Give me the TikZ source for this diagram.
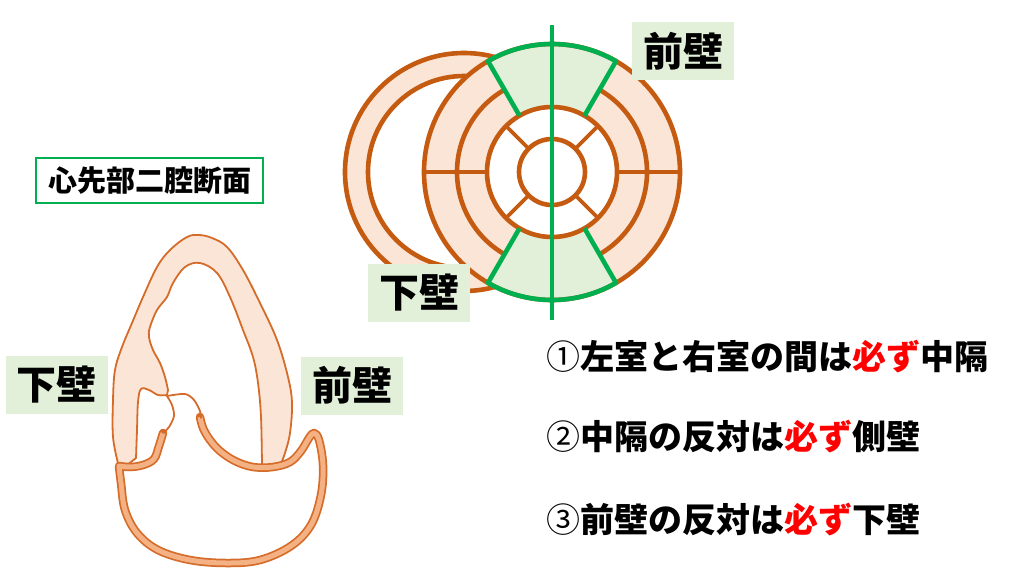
\documentclass[tikz,border=0pt]{standalone}
\usepackage{fontspec}
\newfontfamily\jp{Noto Sans CJK JP}
\definecolor{ring}{RGB}{197,90,17}
\definecolor{peach}{RGB}{251,229,214}
\definecolor{wallline}{RGB}{214,108,42}
\definecolor{atrium}{RGB}{244,177,131}
\definecolor{segline}{RGB}{0,176,80}
\definecolor{segfill}{RGB}{226,240,217}
\begin{document}
\begin{tikzpicture}[x=1pt,y=-1pt,
  ringline/.style={draw=ring, line width=4.6pt},
  greenline/.style={draw=segline, line width=4.6pt},
  walltag/.style={fill=segfill, minimum width=102pt, minimum height=58pt, inner sep=0pt, font=\jp\bfseries\fontsize{40}{48}\selectfont},
  statement/.style={anchor=west, inner sep=0pt, font=\jp\bfseries\fontsize{34}{40}\selectfont},
  musc/.style={fill=peach, draw=wallline, line width=1.8pt, line join=round},
  valve/.style={draw=wallline, line width=1.8pt, line cap=round}]
\useasboundingbox (0,0) rectangle (1024,576);

% right ventricle ring
\fill[peach, even odd rule] (464,172) circle[radius=119] (464,172) circle[radius=96];
\draw[ringline] (464,172) circle[radius=119] (464,172) circle[radius=96];

% left ventricle bull's eye
\begin{scope}[shift={(552,172)}]
\fill[peach] (0,0) circle[radius=128];
\fill[white] (0,0) circle[radius=65];
\foreach \a/\b in {60/120,240/300}
  \fill[segfill] (\a:65) -- (\a:128) arc[start angle=\a, end angle=\b, radius=128] -- (\b:65) arc[start angle=\b, end angle=\a, radius=65] -- cycle;
\draw[ringline] (0,0) circle[radius=128] (0,0) circle[radius=65] (0,0) circle[radius=33];
\draw[ringline] (-60:95) arc[start angle=-60, end angle=60, radius=95];
\draw[ringline] (120:95) arc[start angle=120, end angle=240, radius=95];
\draw[ringline, line width=3.6pt] (0:65) -- (0:128) (180:65) -- (180:128);
\foreach \a in {45,135,225,315}
  \draw[ringline, line width=3.6pt] (\a:33) -- (\a:65);
\foreach \a/\b in {60/120,240/300}
  \draw[greenline, line join=round] (\a:65) -- (\a:128) arc[start angle=\a, end angle=\b, radius=128] -- (\b:65);
\draw[greenline] (0,-147) -- (0,148);
\end{scope}

% two chamber view: ventricle wall
\filldraw[musc] plot[smooth, tension=0.6] coordinates {(118,463) (113,437) (113,400) (115,370) (122,347) (132,323) (143,297) (157,267) (170,250) (187,237) (199,235) (212,238) (227,247) (243,270) (260,303) (277,340) (288,377) (292,403) (290,433) (285,453) (280,466)}
  -- plot[smooth, tension=0.6] coordinates {(262,467) (261,417) (258,383) (253,357) (243,330) (230,297) (217,273) (200,263) (185,267) (173,283) (167,297) (157,310) (150,327) (149,337) (153,350) (160,363) (165,377) (168,390)}
  -- plot[smooth, tension=0.6] coordinates {(167,395) (158,395) (149,390) (141,389) (138,402) (137,430) (136,458)}
  -- (126,466) -- cycle;

% atrium wall
\foreach \lw/\lc/\le in {8.5pt/wallline/round, 5pt/atrium/butt}
  \draw[draw=\lc, line width=\lw, line cap=\le, line join=round]
    plot[smooth, tension=0.6] coordinates {(200,417) (203,428) (210,440) (220,451) (235,461) (253,467) (273,467) (290,462) (301,451) (309,438) (314,433) (319,440) (323,465) (321,495) (311,525) (291,546) (260,560) (227,563) (190,560) (158,550) (137,533) (125,510) (121,483) (119,466)}
    -- plot[smooth, tension=0.6] coordinates {(119,466) (130,467) (143,465) (154,459) (159,446) (163,433)};

% mitral leaflets
\draw[valve] plot[smooth] coordinates {(167,396) (172,405) (174,416) (169,427) (163,433)};
\draw[valve] plot[smooth] coordinates {(167,396) (185,394) (194,400) (200,411) (201,418)};

% labels
\node[walltag] (antTop) at (683,51) {前壁};
\node[walltag] (infMid) at (419,293) {下壁};
\node[walltag] (infLeft) at (56.5,385) {下壁};
\node[walltag] (antLeft) at (352,385.5) {前壁};
\node[draw=segline, line width=2pt, fill=white, minimum width=227pt, minimum height=45pt, inner sep=0pt, font=\jp\bfseries\fontsize{29}{34}\selectfont] (view) at (149.5,180.5) {心先部二腔断面};

\node[statement] (ruleA) at (546,357) {{\mdseries ①}左室と右室の間は\textcolor{red}{必ず}中隔};
\node[statement] (ruleB) at (546,437) {{\mdseries ②}中隔の反対は\textcolor{red}{必ず}側壁};
\node[statement] (ruleC) at (546,520) {{\mdseries ③}前壁の反対は\textcolor{red}{必ず}下壁};
\end{tikzpicture}
\end{document}
